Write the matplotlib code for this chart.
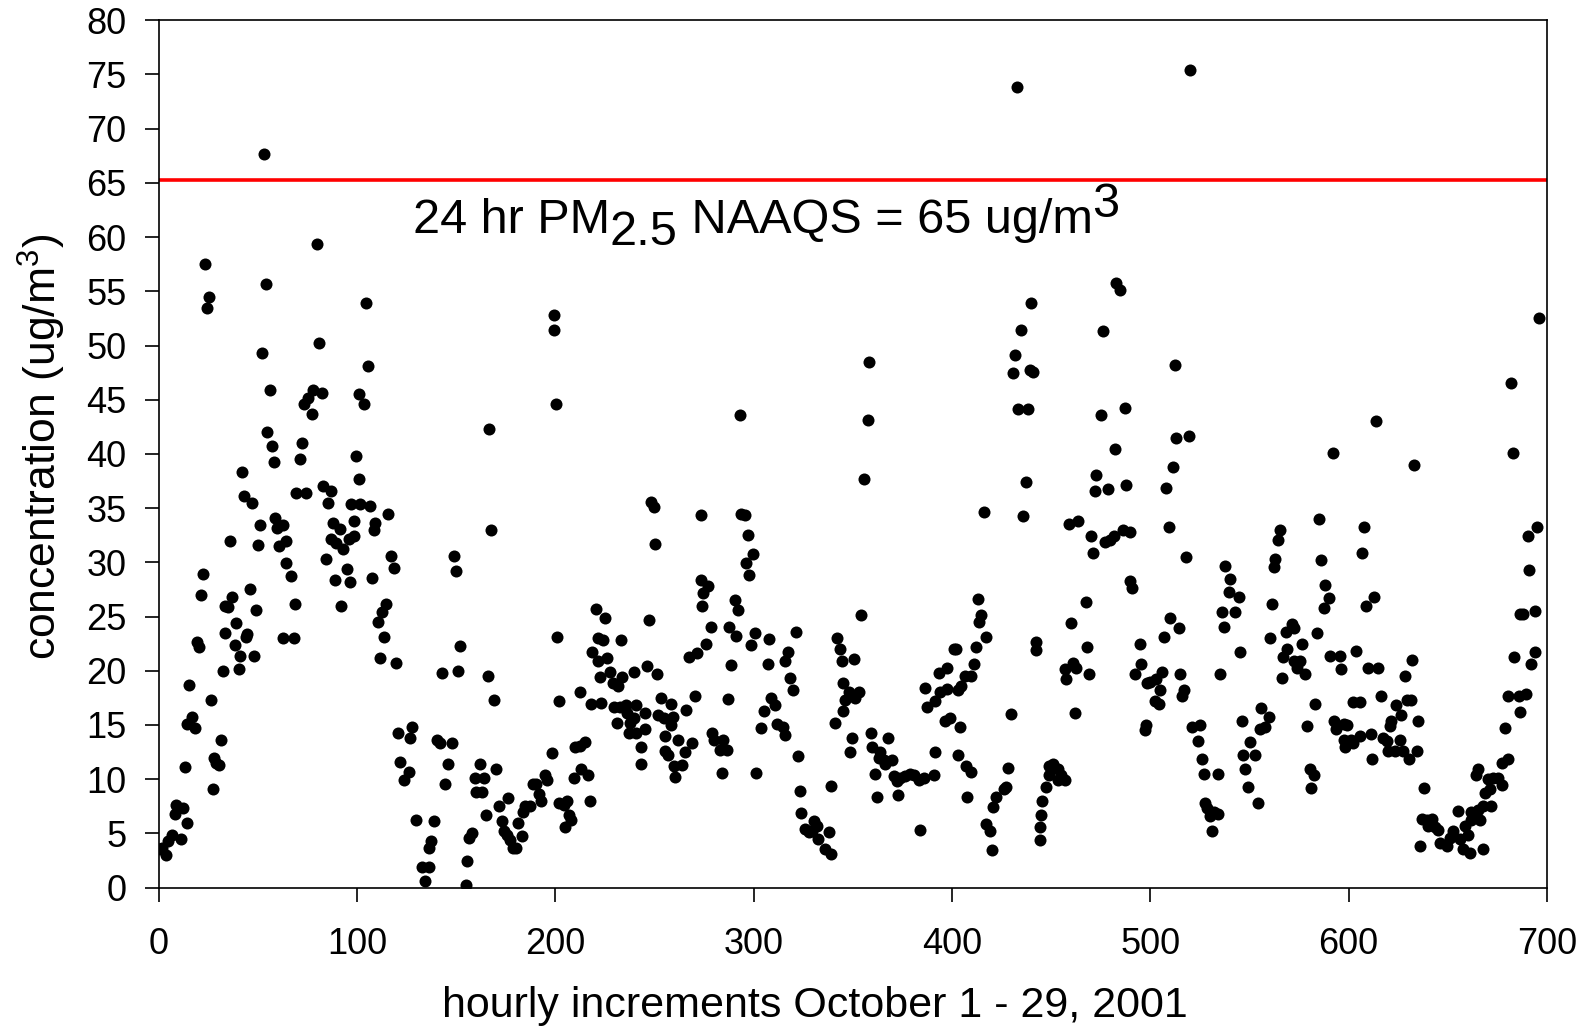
import matplotlib
matplotlib.use("Agg")
import matplotlib.pyplot as plt
from matplotlib.transforms import IdentityTransform

plt.rcParams['font.family'] = ['Liberation Sans', 'DejaVu Sans']
plt.rcParams['mathtext.fontset'] = 'custom'
plt.rcParams['mathtext.rm'] = 'Liberation Sans'
plt.rcParams['mathtext.it'] = 'Liberation Sans'

# hour index and PM2.5 concentration (ug/m3)
hours = [
    53.1, 80, 23.2, 25.2, 24.4, 54.1, 81, 52.1, 56, 73.1, 75.3, 78, 82.5, 77.2,
    54.8, 57.1, 58, 72.1, 71.3, 42.2, 43, 47.1, 69.4, 74.3, 82.9, 87.1, 85.5,
    99.3, 101, 96.8, 101.3, 98.7, 50.9, 49.9, 36.1, 58.8, 59.8, 62.7, 60.7, 64.4,
    64.4, 66.9, 68.7, 62.9, 68.4, 87.9, 91.4, 87.1, 89.6, 92.9, 96, 98.7,
    84.2, 89.1, 95.1, 96.3, 92.1, 22.2, 21.2, 33.6, 37.1, 35, 46, 49.2,
    39.2, 33.4, 38.3, 41.2, 40.3, 44.7, 44.2, 48.2, 19.5, 20.3, 32.3, 15.3,
    16.8, 14.5, 18.5, 26.2, 31.3, 27.7, 29.1, 30.4, 27.2, 13.3,
    8.9, 8.4, 12.3, 14.3, 11.1, 6.6, 4.7, 1.5, 3.9, 0.5,
    104.7, 105.6, 100.8, 103.4, 106.8, 109.3, 108.4, 115.7, 117.2, 118.6, 107.6,
    114.4, 112.7, 110.6, 113.5, 111.8, 119.8, 120.8, 127.6, 126.7, 121.5, 126.2,
    123.6, 129.6, 138.9, 137.2, 136.3, 132.6, 136.3, 134.3, 140.2, 141.7, 147.8,
    146.1, 144.3, 149, 149.8, 152, 143.1, 150.7, 157.9, 156.6, 155.7, 154.9,
    162, 159.3, 164.2, 159.8, 163.2, 166.7, 167.7, 165.9, 168.9, 170.1, 165,
    171.5, 176, 173.1, 174.3, 175.5, 176.9, 178.5, 180.2, 181, 183.3,
    183.6, 184.5, 187, 188.7, 190.4, 192.9, 192, 194.6, 195.8, 198.3,
    199.2, 199.2, 200.2, 200.8, 202, 202,
    204.4, 206.1, 206.7, 207.7, 204.7, 209.4, 213.1, 216.4, 217.3, 210.1, 212.3,
    215.1, 212.3, 218.2, 223.2, 220.3, 225.2, 221.5, 224, 218.5, 226.2, 221.5,
    222.4, 227.4, 229.1, 231.6, 233.6, 232.9, 229.6, 232.4, 235.5, 236.3, 231.1,
    237.5, 239.5, 240.8, 245, 237.1, 240.8, 245, 243, 243.3, 239.5, 246, 251.2,
    247, 248.4, 249.7, 250.1, 253.4, 258.5, 251.8, 254.8, 259.3, 258.2,
    255.1, 261.8, 255.5, 256.8, 265.2, 268.9, 259.6, 263.8, 260.5, 266, 270.3,
    267.2, 271.6, 276.1, 278.3, 273.3, 277, 274.5, 274, 273.3,
    279, 280, 282.9, 284.5, 286.7, 284.2, 287, 288.7, 287.8, 291.3, 290.4, 292.1,
    292.9, 293.8, 295.5, 297.1, 299.7, 296.3, 297.6, 300.5, 298.5, 301.3,
    307.9, 307.2, 305, 310.6, 303.9, 308.9, 311.8, 314.8, 315.6, 317.3, 315.9,
    321.3, 318.5, 319.7, 322.4, 323.5, 324, 325.7, 327.7, 330.3, 332, 332.4,
    335.8, 339.2, 338.2, 329.4, 339.2, 341.2, 342, 343.7, 344.5, 350.4,
    345, 346.2, 347.9, 351.3, 353.3, 345, 349.6, 348.7, 354.3, 355.6, 357.6, 358.3,
    359.3, 359.7, 363, 363.9, 365.5, 367.7, 366.4, 369.7, 361, 362.2,
    370.6, 372.3, 374, 376.5, 379, 380.7, 383.2, 385.7, 390.8, 372.8, 384,
    386.6, 387.4, 391.6, 394.1, 397.5, 393.6, 397.5, 396.3, 399.2, 391.3, 400.8,
    433, 440, 435, 431.6, 430.8, 439.5, 440.8, 433.3, 438.3, 437.1, 435.8, 416.1,
    413.1, 414.8, 413.6, 417, 402.2, 411.9, 410.9, 409.7, 406.4, 404.7, 403, 403.9,
    403, 406.9, 409.7, 407.5, 429.9, 428.2, 427.4, 426, 422, 420.7, 417.3, 419, 420.3,
    442.2, 442.2, 444.2, 444.5, 445, 445.5, 447.6, 448.9, 450.9, 453.4, 455.1,
    456.8, 453.4, 448.9, 459, 463.5, 456.8, 457.3, 461, 462.7, 462.2, 460.2,
    467.4, 468.1, 469.1, 470.3, 471.1, 476.1, 475.3, 472.8, 472, 478.7, 477,
    479.5, 481.5, 482, 482.5, 484.5, 487.1, 487.9, 486.2, 489.6, 489.9, 490.8,
    494.6, 492.1, 495.5, 498.3, 500, 497.6, 497.1,
    520.2, 512.3, 513.1, 519.3, 511.3, 508.1, 509.2, 518.2, 510.1, 514.3, 507.1,
    505.9, 515.1, 503, 505, 502.5, 504.2, 516.8, 516, 535, 521, 525.2, 523.9,
    526, 527.2, 533.9, 527.7, 528.6, 532.3, 534, 530.3, 531.1,
    537.8, 540, 539.5, 544.5, 536.1, 537.3, 542.9, 545, 546.2, 546.7, 550.4,
    547.9, 552.9, 549.1, 554.1, 555.8, 559.7, 555.1, 558, 565.5, 564.5, 563,
    562.2, 561.3, 560.2, 568.3, 571.2, 572.5, 569.1, 566.9, 576.5, 572.7, 575.4,
    578.2, 574, 566.4, 579, 580.3, 582.4, 581, 585.2, 586, 588.2, 589.9, 587.4,
    584, 582.9, 592.1, 590.8, 595.5, 596.1, 592.4, 593.8, 597.5, 599.2, 597.5, 598.3,
    696.1, 682, 683.1, 614, 633.1, 607.8, 606.7, 695.1, 690.2, 691, 612.8, 608.9,
    686.5, 687.7, 694.1, 603.9, 609.8, 614.8, 683.6, 694.1, 692.1, 632, 628.3,
    602.2, 605.6, 616.2, 624.1, 629.2, 631.4, 626.6, 621.6, 620.7, 635.1,
    601.3, 602.2, 605.6, 611.5, 617.4, 619.1, 625.8, 611.8, 619.6, 623.3, 627.2,
    630.4, 634.3, 638.1, 680.6, 685.7, 689.5, 686.5, 678.9, 680.6, 677.2,
    665.4, 664.2, 670.2, 673, 675.2, 677.2, 668.8, 671.3, 671.8, 667.9, 665.4,
    661.7, 663.4, 666.2, 661.7, 655.3, 658.7, 660.4, 661.2, 657.8, 656.1, 652.8,
    651.1, 649.4, 646, 645.2, 642.2, 643.5, 639.3, 640.1, 636.8, 636, 668,
]
conc = [
    67.7, 59.4, 57.5, 54.5, 53.5, 55.7, 50.2, 49.3, 45.9, 44.6, 45.2, 45.9, 45.6, 43.7,
    42, 40.7, 39.3, 41, 39.5, 38.3, 36.1, 35.5, 36.4, 36.4, 37, 36.6, 35.5,
    39.8, 37.7, 35.4, 35.4, 33.8, 33.4, 31.6, 32, 34.1, 33.2, 33.4, 31.5, 32,
    29.9, 28.7, 26.2, 23, 23, 33.6, 33.1, 32.2, 31.8, 31.2, 32.2, 32.4,
    30.3, 28.4, 29.4, 28.2, 26, 28.9, 27, 26, 26.8, 25.9, 27.5, 25.6,
    24.4, 23.5, 22.4, 21.4, 20.2, 23.4, 23.1, 21.4, 22.7, 22.2, 20, 18.7,
    15.7, 15.1, 14.7, 17.3, 13.6, 12, 11.5, 11.3, 9.1, 11.1,
    7.6, 6.8, 7.3, 6, 4.5, 4.9, 4.3, 3.7, 3, 3.6,
    53.9, 48.1, 45.5, 44.6, 35.2, 33.6, 33, 34.5, 30.6, 29.5, 28.6,
    26.2, 25.4, 24.5, 23.1, 21.2, 20.7, 14.3, 14.8, 13.8, 11.6, 10.7,
    9.9, 6.2, 6.1, 4.3, 3.7, 1.9, 1.9, 0.6, 13.6, 13.3, 13.3,
    11.4, 9.6, 30.6, 29.2, 22.3, 19.8, 20, 5, 4.6, 2.5, 0.2,
    11.4, 10.1, 10.1, 8.8, 8.8, 42.3, 33, 19.5, 17.3, 10.9, 6.7,
    7.5, 8.3, 6.1, 5.2, 4.9, 4.4, 3.7, 3.7, 6, 4.8,
    7, 7.5, 7.5, 9.6, 9.6, 8, 8.6, 10.4, 9.9, 12.4,
    52.8, 51.4, 44.6, 23.1, 17.2, 7.8,
    7.6, 8, 6.7, 6.2, 5.6, 10.1, 10.9, 10.4, 8, 13, 13.1,
    13.4, 18, 16.9, 17, 25.7, 24.9, 23, 22.8, 21.7, 21.2, 20.9,
    19.4, 19.9, 18.9, 18.6, 19.4, 22.8, 16.7, 16.7, 16.8, 16.1, 15.2,
    15.2, 15.6, 16.8, 16.1, 14.3, 14.3, 14.6, 13, 11.4, 19.9, 20.4, 19.7,
    24.7, 35.6, 35.1, 31.7, 17.5, 16.9, 15.9, 15.6, 15.7, 15,
    14, 13.6, 12.6, 12.2, 12.5, 13.3, 11.2, 11.3, 10.2, 16.4, 17.7,
    21.3, 21.6, 22.5, 24, 28.4, 27.8, 27.2, 26, 34.4,
    14.3, 13.6, 12.7, 13.6, 12.7, 10.6, 17.4, 20.5, 24, 23.2, 26.5, 25.6,
    43.6, 34.5, 34.4, 32.5, 30.8, 29.9, 28.8, 23.5, 22.4, 10.6,
    22.9, 20.6, 16.3, 16.8, 14.7, 17.5, 15.1, 14.8, 14.1, 21.7, 20.9,
    23.6, 19.3, 18.2, 12.1, 8.9, 6.9, 5.4, 5.1, 6.1, 5.7, 4.5,
    3.6, 3.1, 5.1, 5.2, 9.4, 15.2, 23, 22, 20.9, 21.1,
    18.9, 17.3, 18, 17.5, 18, 16.3, 13.8, 12.5, 25.1, 37.7, 43.1, 48.5,
    14.3, 13, 12, 12.5, 11.8, 13.8, 11.4, 11.8, 10.5, 8.4,
    10.3, 9.8, 10.1, 10.3, 10.5, 10.4, 9.9, 10.1, 10.4, 8.5, 5.3,
    18.4, 16.7, 17.2, 18, 18.3, 19.8, 20.3, 15.4, 15.6, 12.5, 22,
    73.8, 53.9, 51.4, 49.1, 47.5, 47.7, 47.6, 44.1, 44.1, 37.4, 34.3, 34.6,
    26.6, 25.1, 24.5, 23.1, 22, 22.2, 20.6, 19.5, 19.5, 18.6, 18.2, 14.8,
    12.2, 11.2, 10.7, 8.4, 16, 11, 9.3, 9.1, 8.4, 7.4, 5.9, 5.2, 3.5,
    22.7, 21.9, 4.4, 5.6, 6.7, 8, 9.3, 10.4, 11.4, 10.9, 10.4,
    9.9, 9.9, 11.2, 33.5, 33.8, 20.2, 19.2, 20.7, 20.3, 16.1, 24.4,
    26.3, 22.2, 19.7, 32.4, 30.9, 51.3, 43.6, 38.1, 36.6, 36.8, 31.9,
    32.1, 32.4, 40.5, 55.8, 55.1, 44.2, 37.1, 33, 32.8, 28.3, 27.6,
    22.5, 19.7, 20.6, 18.9, 19, 15, 14.5,
    75.4, 48.2, 41.5, 41.7, 38.8, 36.9, 33.3, 30.5, 24.9, 23.9, 23.1,
    19.9, 19.7, 19.2, 18.2, 17.2, 16.9, 18.2, 17.7, 19.7, 14.8, 15, 13.5,
    11.9, 10.5, 10.5, 7.8, 7.3, 7, 6.8, 6.6, 5.2,
    29.7, 28.5, 27.3, 26.8, 25.4, 24, 25.4, 21.7, 15.4, 12.2, 13.4,
    10.9, 12.2, 9.3, 7.8, 16.6, 15.7, 14.6, 14.8, 33, 32.1, 30.3,
    29.6, 26.2, 23, 23.6, 24.3, 23.9, 22, 21.3, 22.5, 20.9, 20.9,
    19.7, 20.3, 19.3, 14.9, 10.9, 10.4, 9.2, 34, 30.2, 27.9, 26.7, 25.8,
    23.5, 16.9, 40.1, 21.4, 21.4, 20.2, 15.4, 14.6, 15.1, 15, 13.6, 13,
    52.5, 46.5, 40.1, 43, 39, 33.3, 30.9, 33.3, 32.4, 29.3, 26.8, 26,
    25.2, 25.2, 25.5, 21.8, 20.3, 20.3, 21.3, 21.7, 20.6, 21, 19.5,
    17.1, 17.1, 17.7, 16.8, 17.3, 17.3, 15.9, 15.4, 14.9, 15.4,
    13.6, 13.3, 14, 14.2, 13.8, 13.5, 13.6, 11.9, 12.6, 12.6, 12.6,
    11.9, 12.6, 9.2, 17.7, 17.7, 17.9, 16.2, 14.7, 11.9, 11.5,
    10.9, 10.4, 10, 10.1, 10.1, 9.5, 8.7, 9.1, 7.5, 7.5, 7.2,
    7, 6.5, 6.2, 6.2, 7.1, 5.7, 4.9, 3.2, 3.6, 4.5, 5.2,
    4.6, 3.8, 4.1, 5.3, 6.3, 5.6, 6.2, 5.7, 6.3, 3.8, 3.6,
]
naaqs = 65.3

x_ticks = [0, 100, 200, 300, 400, 500, 600, 700]
y_ticks = list(range(0, 81, 5))

fig = plt.figure(figsize=(15.85, 10.27), dpi=100)
ax = fig.add_axes([0.1001, 0.1357, 0.8759, 0.8446])

ax.axhline(naaqs, color='#ff0000', linewidth=2.6, zorder=1)
ax.scatter(hours, conc, s=75, color='black', linewidths=0, zorder=2)

ax.set_xlim(0, 700)
ax.set_ylim(0, 80)
ax.set_xticks(x_ticks)
ax.set_yticks(y_ticks)
ax.tick_params(direction='out', length=10, width=1.2, labelsize=26)
ax.tick_params(axis='x', pad=18)
ax.tick_params(axis='y', pad=13)
for sp in ax.spines.values():
    sp.set_linewidth(1.2)

ax.set_xlabel('hourly increments October 1 - 29, 2001', fontsize=31)
ax.xaxis.set_label_coords(0.473, -0.136)
ax.xaxis.label.set_va('center')
ax.set_ylabel('concentration (ug/m$^3$)', fontsize=32)
ax.yaxis.set_label_coords(-0.084, 0.508)
ax.yaxis.label.set_va('center')

# annotation built from pieces so the sub/superscript stay full size
fig.canvas.draw()
renderer = fig.canvas.get_renderer()
xd, yd = ax.transData.transform((128, 60.4))
pieces = [('24 hr PM', 0), ('2.5', -12), (' NAAQS = 65 ug/m', 0), ('3', 16)]
for s, dy in pieces:
    t = fig.text(xd, yd + dy, s, fontsize=35, va='baseline', ha='left',
                 transform=IdentityTransform())
    xd = t.get_window_extent(renderer).x1

fig.savefig('out.png', dpi=100)
